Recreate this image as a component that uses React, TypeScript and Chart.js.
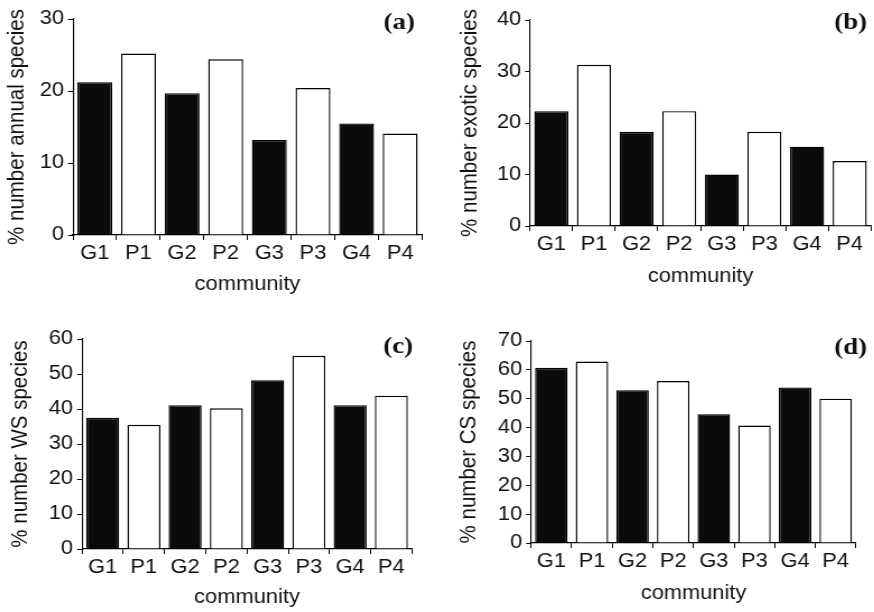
import React, { useEffect, useRef } from "react";
import { Chart, registerables } from "chart.js";

Chart.register(...registerables);

const categories = ["G1", "P1", "G2", "P2", "G3", "P3", "G4", "P4"];
const annualValues = [21.2, 25.2, 19.7, 24.4, 13.2, 20.4, 15.5, 14.1];
const exoticValues = [22.3, 31.3, 18.3, 22.3, 10.0, 18.3, 15.4, 12.6];
const wsValues = [37.5, 35.5, 41.1, 40.2, 48.2, 55.2, 41.1, 43.8];
const csValues = [60.7, 62.9, 52.9, 56.1, 44.6, 40.7, 53.9, 50.0];
const barFills = ["#0b0b0b", "#ffffff", "#0b0b0b", "#ffffff", "#0b0b0b", "#ffffff", "#0b0b0b", "#ffffff"];

const SANS = "'Liberation Sans', Arial, Helvetica, sans-serif";
const TEXT = "#111111";
const STRETCH = 1.12; // the reference's lettering is horizontally widened
const TICK_FONT = 19.5;
const YTITLE_FONT = 20.5;

type PanelProps = {
  left: number;
  top: number;
  width: number;
  height: number;
  values: number[];
  yMax: number;
  yTitle: string;
  label: string;
  yWidth: number;
  padTop: number;
  padRight: number;
  xHeight: number;
  yTitleCenter: number;
  xTitlePad: number;
  labelRight: number;
  labelY: number;
};

function Panel(p: PanelProps) {
  const ref = useRef<HTMLCanvasElement | null>(null);
  const iw = Math.round(p.width / STRETCH);
  const s = p.width / iw;
  useEffect(() => {
    if (!ref.current) return;
    const labelPlugin = {
      id: "panelLabel",
      afterDraw(chart: any) {
        const ctx = chart.ctx;
        ctx.save();
        ctx.font = "bold 24px 'Liberation Serif', 'Times New Roman', serif";
        ctx.fillStyle = TEXT;
        ctx.textAlign = "right";
        ctx.textBaseline = "middle";
        ctx.fillText(p.label, p.labelRight / s, p.labelY);
        ctx.restore();
      },
    };
    const yLH = YTITLE_FONT * 1.2;
    const tLH = TICK_FONT * 1.2;
    const chart = new Chart(ref.current, {
      type: "bar",
      data: {
        labels: categories,
        datasets: [
          {
            data: p.values,
            backgroundColor: barFills,
            borderColor: "#000000",
            borderWidth: 1.4,
            barPercentage: 0.8,
            categoryPercentage: 1,
          },
        ],
      },
      options: {
        responsive: false,
        animation: false,
        devicePixelRatio: 1,
        layout: { padding: { left: 0, top: p.padTop, right: p.padRight / s, bottom: 0 } },
        plugins: { legend: { display: false }, tooltip: { enabled: false } },
        scales: {
          x: {
            grid: {
              offset: true,
              drawOnChartArea: false,
              drawTicks: true,
              tickLength: 5,
              color: "#000000",
              lineWidth: 1,
            },
            border: { display: true, color: "#000000", width: 1.2 },
            ticks: { color: TEXT, font: { family: SANS, size: TICK_FONT }, padding: 2, maxRotation: 0 },
            title: {
              display: true,
              text: "community",
              color: TEXT,
              font: { family: SANS, size: TICK_FONT },
              padding: { top: 0, bottom: p.xHeight - p.xTitlePad - tLH / 2 },
            },
            afterFit(scale: any) {
              scale.height = p.xHeight;
            },
          },
          y: {
            min: 0,
            max: p.yMax,
            ticks: { stepSize: 10, color: TEXT, font: { family: SANS, size: TICK_FONT }, padding: 3.5 },
            grid: {
              drawOnChartArea: false,
              drawTicks: true,
              tickLength: 4.4,
              color: "#000000",
              lineWidth: 1,
            },
            border: { display: true, color: "#000000", width: 1.1 },
            title: {
              display: true,
              text: p.yTitle,
              color: TEXT,
              font: { family: SANS, size: YTITLE_FONT },
              padding: { top: p.yTitleCenter / s - yLH / 2, bottom: 0 },
            },
            afterFit(scale: any) {
              scale.width = p.yWidth / s;
            },
          },
        },
      },
      plugins: [labelPlugin],
    });
    return () => chart.destroy();
  }, []);
  return (
    <div
      style={{
        position: "absolute",
        left: p.left,
        top: p.top,
        width: iw,
        height: p.height,
        transform: `scaleX(${s})`,
        transformOrigin: "0 0",
      }}
    >
      <canvas ref={ref} width={iw} height={p.height} style={{ display: "block", width: iw, height: p.height }} />
    </div>
  );
}

export default function App() {
  return (
    <div style={{ position: "absolute", left: 0, top: 0, width: 874, height: 612, background: "#ffffff", overflow: "hidden" }}>
      <Panel
        left={0} top={0} width={434} height={300}
        values={annualValues} yMax={30} yTitle="% number annual species" label="(a)"
        yWidth={73} padTop={19} padRight={12} xHeight={65} yTitleCenter={17} xTitlePad={50}
        labelRight={415} labelY={23}
      />
      <Panel
        left={434} top={0} width={440} height={300}
        values={exoticValues} yMax={40} yTitle="% number exotic species" label="(b)"
        yWidth={96} padTop={20} padRight={3} xHeight={74} yTitleCenter={36} xTitlePad={51}
        labelRight={433} labelY={23}
      />
      <Panel
        left={0} top={300} width={434} height={312}
        values={wsValues} yMax={60} yTitle="% number WS species" label="(c)"
        yWidth={82} padTop={39} padRight={22} xHeight={63} yTitleCenter={21} xTitlePad={49}
        labelRight={413} labelY={47}
      />
      <Panel
        left={434} top={300} width={440} height={312}
        values={csValues} yMax={70} yTitle="% number CS species" label="(d)"
        yWidth={97} padTop={41} padRight={18} xHeight={69} yTitleCenter={35} xTitlePad={51}
        labelRight={433} labelY={48}
      />
    </div>
  );
}
